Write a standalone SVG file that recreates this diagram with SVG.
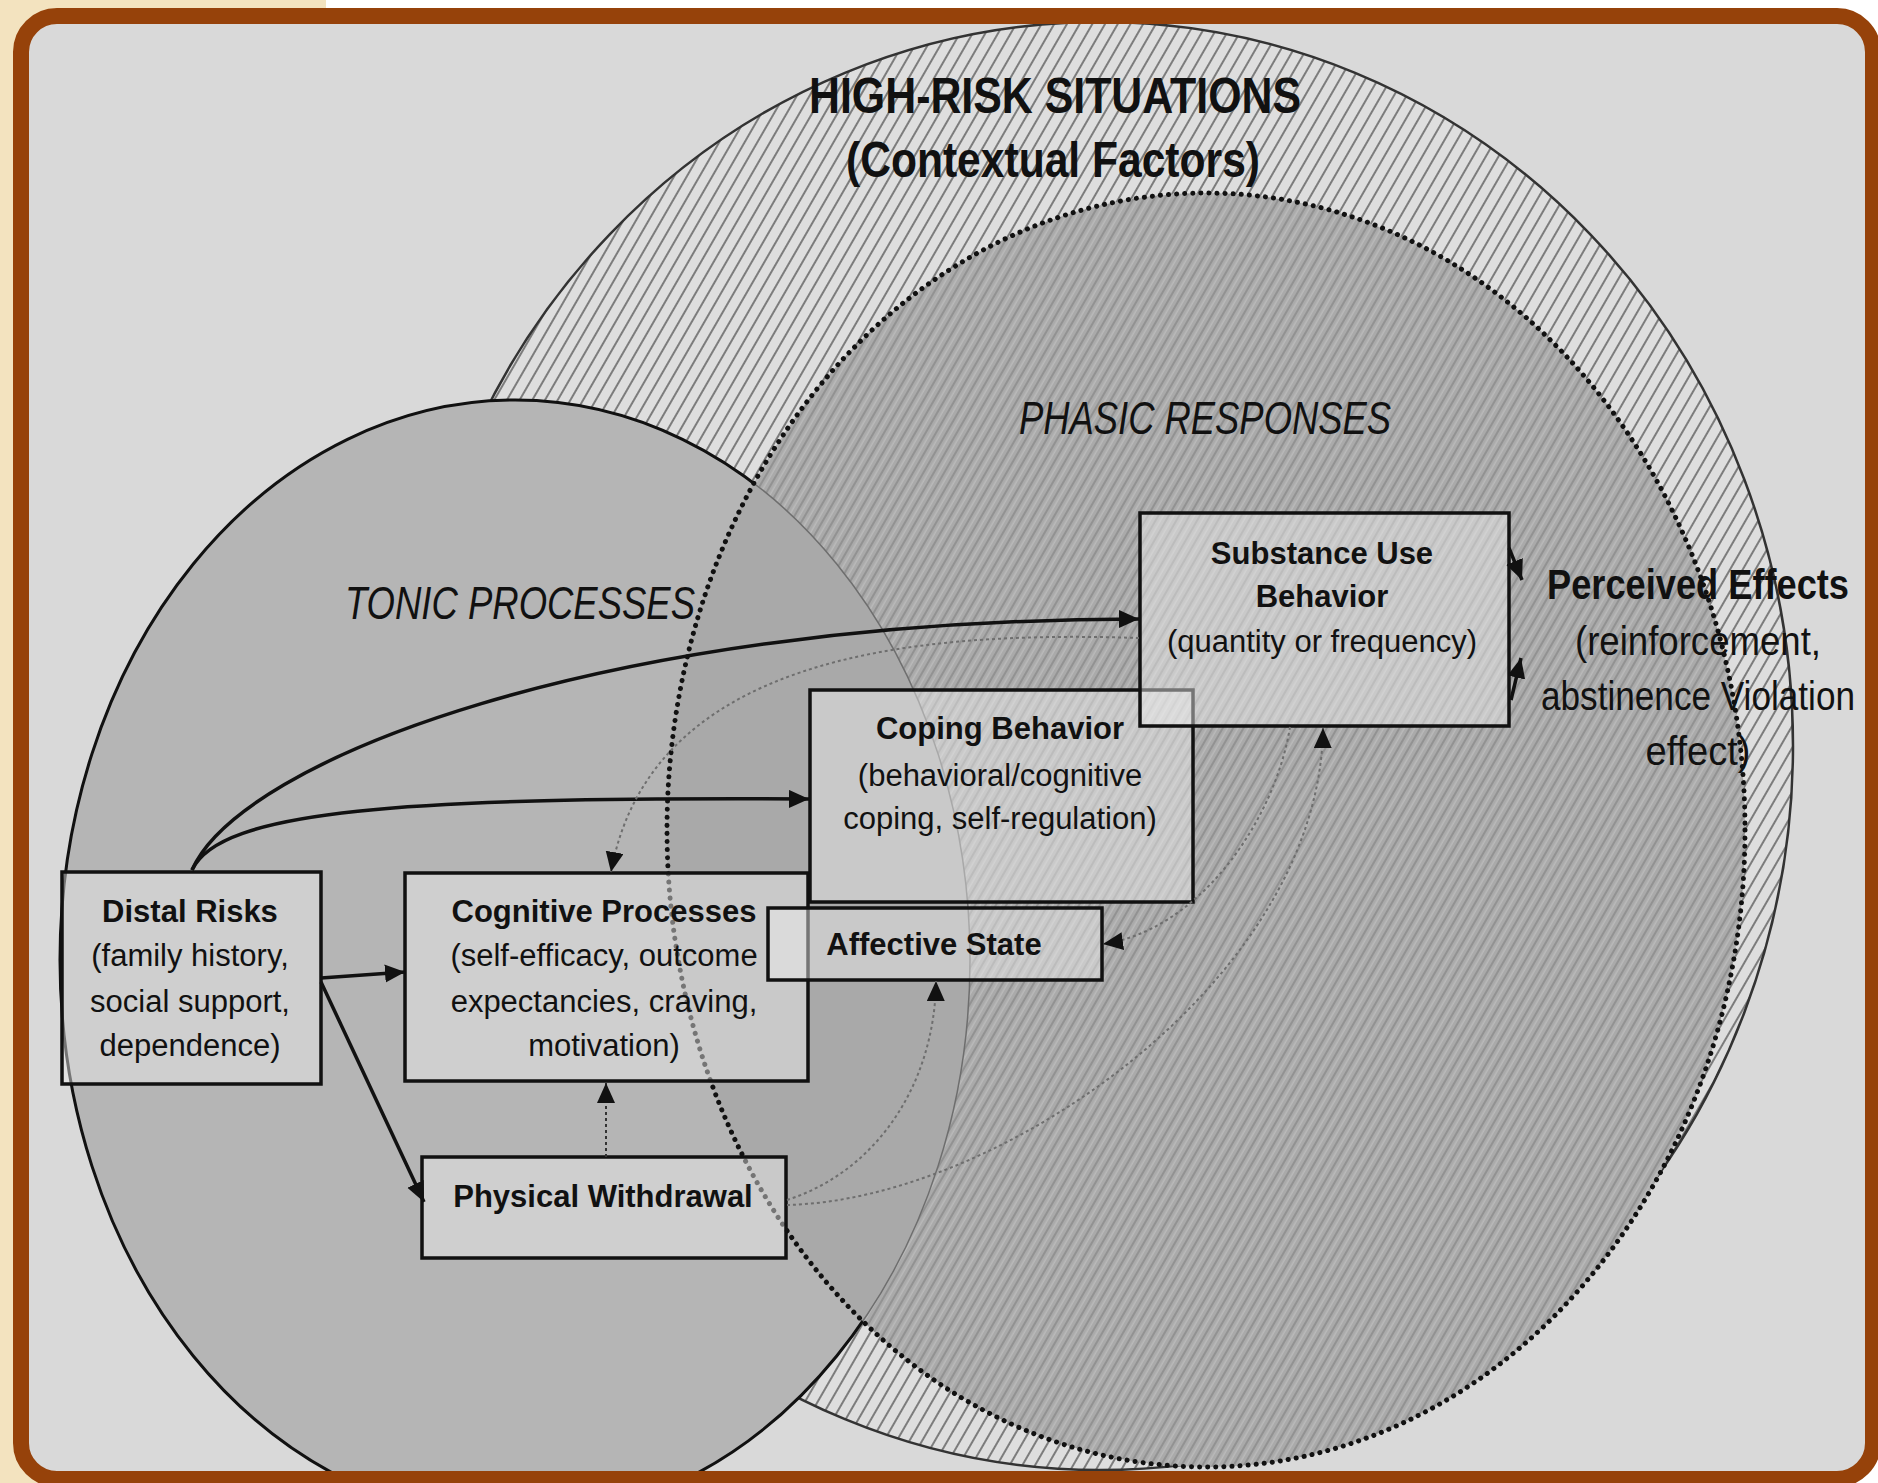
<svg xmlns="http://www.w3.org/2000/svg" width="1878" height="1483" viewBox="0 0 1878 1483">
<style>
.t{font-family:"Liberation Sans",Arial,sans-serif;fill:#111;text-anchor:middle}
.b{font-weight:bold}
.it{font-style:italic}
.box{fill:#efefef;fill-opacity:0.45;stroke:#111;stroke-width:3.5}
.solid{fill:none;stroke:#111;stroke-width:3.5}
.dot{fill:none;stroke:#6e6e6e;stroke-width:2;stroke-dasharray:3 3}
.ddot{fill:none;stroke:#333;stroke-width:2;stroke-dasharray:3 3}
</style>
<defs>
<pattern id="hatchLight" patternUnits="userSpaceOnUse" width="11" height="11" patternTransform="rotate(30)">
<rect width="11" height="11" fill="#dedede"/>
<rect x="0" width="2" height="11" fill="#7c7c7c"/>
</pattern>
<pattern id="hatchDark" patternUnits="userSpaceOnUse" width="9" height="9" patternTransform="rotate(30)">
<rect width="9" height="9" fill="#aaaaaa"/>
<rect x="0" width="2" height="9" fill="#929292"/>
<rect x="4.5" width="1.5" height="9" fill="#bababa"/>
</pattern>
<clipPath id="inner"><rect x="29" y="24" width="1837" height="1448" rx="30"/></clipPath>
<clipPath id="inTonic"><ellipse cx="515" cy="960" rx="455" ry="560"/></clipPath>
<clipPath id="outPhasic"><path clip-rule="evenodd" d="M0 0H1878V1483H0Z M667 830A539 637 0 1 0 1745 830A539 637 0 1 0 667 830Z"/></clipPath>
<marker id="ah" markerUnits="userSpaceOnUse" markerWidth="24" markerHeight="20" refX="20" refY="9" orient="auto">
<path d="M0,0 L20,9 L0,18 Z" fill="#111"/>
</marker>
</defs>

<rect x="0" y="0" width="1878" height="1483" fill="#ffffff"/>
<rect x="0" y="0" width="326" height="1483" fill="#f3e3bf"/>
<rect x="21" y="16" width="1852" height="1463" rx="36" fill="#d9d9d9"/>

<g id="regions" clip-path="url(#inner)">
<ellipse id="high-risk" cx="1100" cy="746" rx="693" ry="724" fill="url(#hatchLight)" stroke="#333" stroke-width="2.5"/>
<ellipse cx="1206" cy="830" rx="539" ry="637" fill="url(#hatchDark)"/>
<ellipse cx="515" cy="960" rx="455" ry="560" fill="#b5b5b5"/>
<ellipse cx="1206" cy="830" rx="539" ry="637" fill="#a9a9a9" clip-path="url(#inTonic)"/>
<ellipse cx="515" cy="960" rx="455" ry="560" fill="none" stroke="#6e6e6e" stroke-width="1.5"/>
<ellipse id="tonic" cx="515" cy="960" rx="455" ry="560" fill="none" stroke="#111" stroke-width="3" clip-path="url(#outPhasic)"/>
<ellipse id="phasic" cx="1206" cy="830" rx="539" ry="637" fill="none" stroke="#111" stroke-width="5" stroke-linecap="round" stroke-dasharray="0.1 8"/>
</g>

<rect x="21" y="16" width="1852" height="1463" rx="36" fill="none" stroke="#96420a" stroke-width="16"/>

<g id="labels">
<text class="t b" x="1055" y="113" font-size="50" textLength="492" lengthAdjust="spacingAndGlyphs">HIGH-RISK SITUATIONS</text>
<text class="t b" x="1053" y="177" font-size="50" textLength="414" lengthAdjust="spacingAndGlyphs">(Contextual Factors)</text>
<text class="t it" x="1205" y="434" font-size="46" textLength="372" lengthAdjust="spacingAndGlyphs">PHASIC RESPONSES</text>
<text class="t it" x="520" y="619" font-size="46" textLength="350" lengthAdjust="spacingAndGlyphs">TONIC PROCESSES</text>
</g>

<g id="node-distal">
<rect class="box" x="62" y="872" width="259" height="212"/>
<text class="t b" x="190" y="922" font-size="31">Distal Risks</text>
<text class="t" x="190" y="966" font-size="31">(family history,</text>
<text class="t" x="190" y="1012" font-size="31">social support,</text>
<text class="t" x="190" y="1056" font-size="31">dependence)</text>
</g>
<g id="node-cognitive">
<rect class="box" x="405" y="873" width="403" height="208"/>
<text class="t b" x="604" y="922" font-size="31">Cognitive Processes</text>
<text class="t" x="604" y="966" font-size="31">(self-efficacy, outcome</text>
<text class="t" x="604" y="1012" font-size="31">expectancies, craving,</text>
<text class="t" x="604" y="1056" font-size="31">motivation)</text>
</g>
<g id="node-physical">
<rect class="box" x="422" y="1157" width="364" height="101"/>
<text class="t b" x="603" y="1207" font-size="31">Physical Withdrawal</text>
</g>
<g id="node-coping">
<rect class="box" x="810" y="690" width="383" height="212"/>
<text class="t b" x="1000" y="739" font-size="31">Coping Behavior</text>
<text class="t" x="1000" y="786" font-size="31">(behavioral/cognitive</text>
<text class="t" x="1000" y="829" font-size="31">coping, self-regulation)</text>
</g>
<g id="node-affective">
<rect class="box" x="768" y="908" width="334" height="72"/>
<text class="t b" x="934" y="955" font-size="31">Affective State</text>
</g>
<g id="node-substance">
<rect class="box" x="1140" y="513" width="369" height="213"/>
<text class="t b" x="1322" y="564" font-size="31">Substance Use</text>
<text class="t b" x="1322" y="607" font-size="31">Behavior</text>
<text class="t" x="1322" y="652" font-size="31">(quantity or frequency)</text>
</g>
<g id="node-perceived">
<text class="t b" x="1698" y="599" font-size="42" textLength="302" lengthAdjust="spacingAndGlyphs">Perceived Effects</text>
<text class="t" x="1698" y="655" font-size="40" textLength="246" lengthAdjust="spacingAndGlyphs">(reinforcement,</text>
<text class="t" x="1698" y="710" font-size="40" textLength="314" lengthAdjust="spacingAndGlyphs">abstinence Violation</text>
<text class="t" x="1698" y="765" font-size="40" textLength="105" lengthAdjust="spacingAndGlyphs">effect)</text>
</g>

<g id="connectors">
<path class="solid" d="M192,870 C240,760 600,620 1139,619" marker-end="url(#ah)"/>
<path class="solid" d="M192,870 C220,810 400,797 809,799" marker-end="url(#ah)"/>
<path class="solid" d="M321,978 L405,972" marker-end="url(#ah)"/>
<path class="solid" d="M321,982 L424,1202" marker-end="url(#ah)"/>
<path class="ddot" d="M606,1157 L606,1083" marker-end="url(#ah)"/>
<path class="dot" d="M787,1200 C880,1170 935,1080 936,981" marker-end="url(#ah)"/>
<path class="dot" d="M787,1205 C1000,1200 1320,980 1323,728" marker-end="url(#ah)"/>
<path class="dot" d="M1290,727 C1275,820 1200,930 1103,944" marker-end="url(#ah)"/>
<path class="dot" d="M1139,638 C900,630 650,660 611,872" marker-end="url(#ah)"/>
<path class="solid" d="M1509,548 L1522,580" marker-end="url(#ah)"/>
<path class="solid" d="M1511,700 L1521,658" marker-end="url(#ah)"/>
</g>
</svg>
